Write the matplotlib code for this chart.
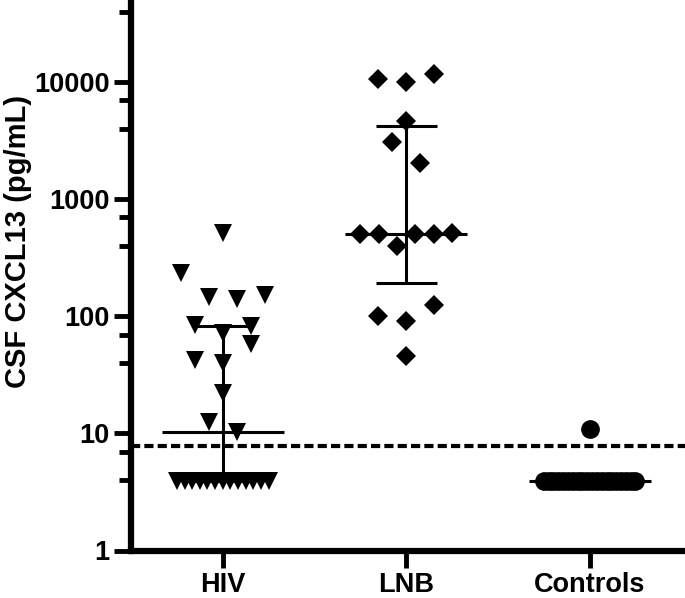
import numpy as np
import matplotlib.pyplot as plt

# CSF CXCL13 (pg/mL) per group; values below the detection limit are plotted at 3.9
groups = ['HIV', 'LNB', 'Controls']
hiv = [520, 235, 147, 141, 153, 85, 72, 83, 42.5, 40, 58, 22, 12.5, 10.2] + [3.9] * 13
lnb = [10600, 10000, 11700, 4640, 3070, 2030, 505, 505, 400, 505, 505, 515, 100, 92, 124, 46]
controls = [11] + [3.9] * 20
cutoff = 7.8

y_major = [1, 10, 100, 1000, 10000]
y_minor = [4, 7, 40, 70, 400, 700, 4000, 7000, 40000]

plt.rcParams['font.family'] = ['Liberation Sans', 'DejaVu Sans']
plt.rcParams['font.weight'] = 'bold'


def swarm(values, center, step=0.153, max_span=0.5, bin_h=0.29, bin_0=1.85):
    # prism-like column scatter: bin by log value, spread each bin left to right
    logs = np.log10(values)
    bins = np.floor((logs - bin_0) / bin_h)
    x = np.zeros(len(values))
    for b in np.unique(bins):
        idx = np.where(bins == b)[0]
        n = len(idx)
        if n > 1:
            s = min(step, max_span / (n - 1))
            x[idx] = (np.arange(n) - (n - 1) / 2) * s
    return center + x


def quartiles(values):
    v = np.sort(values)
    n = len(v)

    def q(p):
        pos = p * (n + 1) - 1
        lo = int(np.floor(pos))
        hi = min(lo + 1, n - 1)
        return v[lo] + (pos - lo) * (v[hi] - v[lo])
    return q(0.25), q(0.5), q(0.75)


fig = plt.figure(figsize=(6.85, 5.98), dpi=100)
ax = fig.add_axes([131 / 685, 47.5 / 598, 554 / 685, 550 / 598])
ax.set_yscale('log')

data = [hiv, lnb, controls]
markers = [('v', 13), ('D', 9.7), ('o', 13.5)]

for i, vals in enumerate(data):
    q1, med, q3 = quartiles(vals)
    ax.hlines(med, i - 0.332, i + 0.332, color='black', lw=2.2, zorder=2)
    ax.vlines(i, q1, q3, color='black', lw=2.2, zorder=2)
    ax.hlines([q1, q3], i - 0.166, i + 0.166, color='black', lw=2.2, zorder=2)
    m, ms = markers[i]
    ax.plot(swarm(vals, i), vals, ls='none', marker=m, ms=ms, mew=0, color='black', zorder=3)

ax.axhline(cutoff, color='black', lw=3, linestyle=(0, (2.2, 1.0)), zorder=1)

ax.set_xlim(-0.5, 2.52)
ax.set_ylim(1, 50000)

ax.set_xticks([0, 1, 2])
ax.set_xticklabels(groups)
ax.set_yticks(y_major)
ax.set_yticklabels([str(v) for v in y_major])
ax.set_yticks(y_minor, minor=True)
ax.set_yticklabels([], minor=True)
ax.set_xticks([], minor=True)

for s in ['top', 'right']:
    ax.spines[s].set_visible(False)
for s in ['left', 'bottom']:
    ax.spines[s].set_linewidth(4.5)

ax.tick_params(axis='both', which='major', length=12, width=3.5, labelsize=19.5, pad=3.5)
ax.tick_params(axis='y', which='minor', length=8.5, width=3.5)

fig.text(18 / 685, 1 - 241 / 598, 'CSF CXCL13 (pg/mL)', rotation=90,
         ha='center', va='center', fontsize=21, fontweight='bold')

fig.savefig('out.png', dpi=100)
